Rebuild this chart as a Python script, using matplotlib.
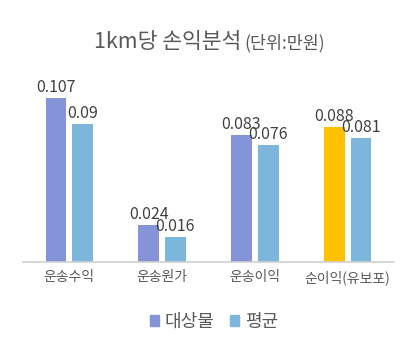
import numpy as np
import matplotlib
matplotlib.use("Agg")
import matplotlib.pyplot as plt
from matplotlib.patches import Patch

plt.rcParams['font.family'] = ['Noto Sans CJK KR', 'DejaVu Sans']

categories = ["운송수익", "운송원가", "운송이익", "순이익(유보포)"]
target_values = [0.107, 0.024, 0.083, 0.088]
average_values = [0.09, 0.016, 0.076, 0.081]
target_labels = ["0.107", "0.024", "0.083", "0.088"]
average_labels = ["0.09", "0.016", "0.076", "0.081"]
series_names = ["대상물", "평균"]

purple = "#8593D8"
blue = "#7DB6DB"
orange = "#FFC000"
text_gray = "#595959"

fig = plt.figure(figsize=(4.17, 3.51), dpi=100)
ax = fig.add_axes([0.055, 0.2536, 0.89, 0.5244])

x = np.arange(len(categories))
width = 0.223
offset = 0.144
target_colors = [purple, purple, purple, orange]

bars1 = ax.bar(x - offset, target_values, width, color=target_colors)
bars2 = ax.bar(x + offset, average_values, width, color=blue)

for bar, lab in zip(bars1, target_labels):
    ax.annotate(lab, (bar.get_x() + bar.get_width() / 2, bar.get_height()),
                xytext=(0, 1.5), textcoords="offset points",
                ha="center", va="bottom", fontsize=11.5, color="#404040")
for bar, lab in zip(bars2, average_labels):
    ax.annotate(lab, (bar.get_x() + bar.get_width() / 2, bar.get_height()),
                xytext=(0, 1.5), textcoords="offset points",
                ha="center", va="bottom", fontsize=11.5, color="#404040")

ax.set_xlim(-0.5, len(categories) - 0.5)
ax.set_ylim(0, 0.12)
ax.set_yticks([])
ax.set_xticks(x)
ax.set_xticklabels(categories, fontsize=10, color=text_gray)
ax.tick_params(axis="x", length=0, pad=6)
for side in ["top", "right", "left"]:
    ax.spines[side].set_visible(False)
ax.spines["bottom"].set_color("#D0D0D0")
ax.spines["bottom"].set_linewidth(1.2)

# title in two sizes
fig.text(0.578, 0.862, "1km당 손익분석", ha="right", va="baseline",
         fontsize=15.5, color=text_gray)
fig.text(0.585, 0.862, "(단위:만원)", ha="left", va="baseline",
         fontsize=12.5, color=text_gray)

handles = [Patch(color=purple), Patch(color=blue)]
fig.legend(handles, series_names, loc="center", bbox_to_anchor=(0.513, 0.083),
           ncol=2, frameon=False, fontsize=13, handlelength=0.5, handleheight=0.5,
           handletextpad=0.3, columnspacing=0.9, labelcolor=text_gray)

fig.savefig("out.png", dpi=100)
